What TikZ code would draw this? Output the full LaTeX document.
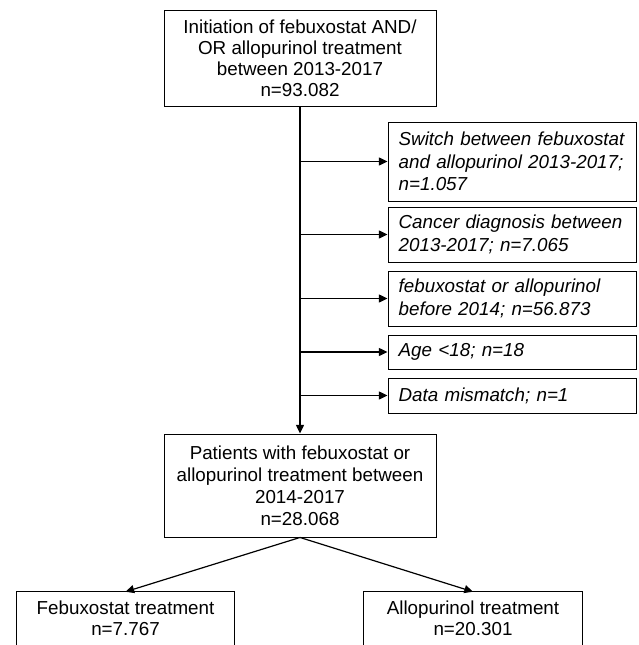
\documentclass[tikz,border=0pt]{standalone}
\usepackage{fontspec}
\setmainfont{Liberation Sans}
\usetikzlibrary{arrows.meta}
\begin{document}
\begin{tikzpicture}[x=0.75pt,y=-0.75pt,
  box/.style={draw, line width=0.7pt, align=center, inner sep=0pt, font=\fontsize{14.1}{16.5}\selectfont},
  excl/.style={draw, line width=0.7pt, align=left, text width=170pt, inner xsep=8pt, inner ysep=0pt, font=\fontsize{14.1}{16.8}\selectfont\itshape},
  openbox/.style={align=center, inner sep=0pt, font=\fontsize{14.1}{15.75}\selectfont},
  edgeline/.style={line width=0.7pt},
  arr/.style={line width=0.9pt, -{Triangle[length=6.5pt,width=6pt]}}]
\useasboundingbox (0,0) rectangle (638,645);
\node[box, minimum width=204pt, minimum height=72pt, font=\fontsize{14.1}{15.75}\selectfont] (top) at (300,58)
  {Initiation of febuxostat AND/\\OR allopurinol treatment\\between 2013-2017\\n=93.082};
\node[excl, minimum height=59.25pt] (e1) at (512,161.5)
  {Switch between febuxostat\\and allopurinol 2013-2017;\\n=1.057};
\node[excl, minimum height=41.25pt] (e2) at (512,234.5)
  {Cancer diagnosis between\\2013-2017; n=7.065};
\node[excl, minimum height=41.25pt] (e3) at (512,298.5)
  {febuxostat or allopurinol\\before 2014; n=56.873};
\node[excl, minimum height=25.5pt] (e4) at (512,352)
  {Age <18; n=18};
\node[excl, minimum height=26.25pt] (e5) at (512,395.5)
  {Data mismatch; n=1};
\node[box, minimum width=204pt, minimum height=77.25pt] (pat) at (300,485.5)
  {Patients with febuxostat or\\allopurinol treatment between\\2014-2017\\n=28.068};
\node[openbox, minimum width=162.75pt, minimum height=39.75pt] (feb) at (125.5,618.5)
  {Febuxostat treatment\\n=7.767};
\node[openbox, minimum width=163.5pt, minimum height=39.75pt] (allo) at (473,618.5)
  {Allopurinol treatment\\n=20.301};
\draw[edgeline] (feb.south west) -- (feb.north west) -- (feb.north east) -- (feb.south east);
\draw[edgeline] (allo.south west) -- (allo.north west) -- (allo.north east) -- (allo.south east);
\draw[arr] (top.south) -- (pat.north);
\foreach \e in {e1,e2,e3,e4,e5}
  \draw[arr] (top.south |- \e.west) -- (\e.west);
\draw[arr] (pat.south) -- (feb.north);
\draw[arr] (pat.south) -- (allo.north);
\end{tikzpicture}
\end{document}
